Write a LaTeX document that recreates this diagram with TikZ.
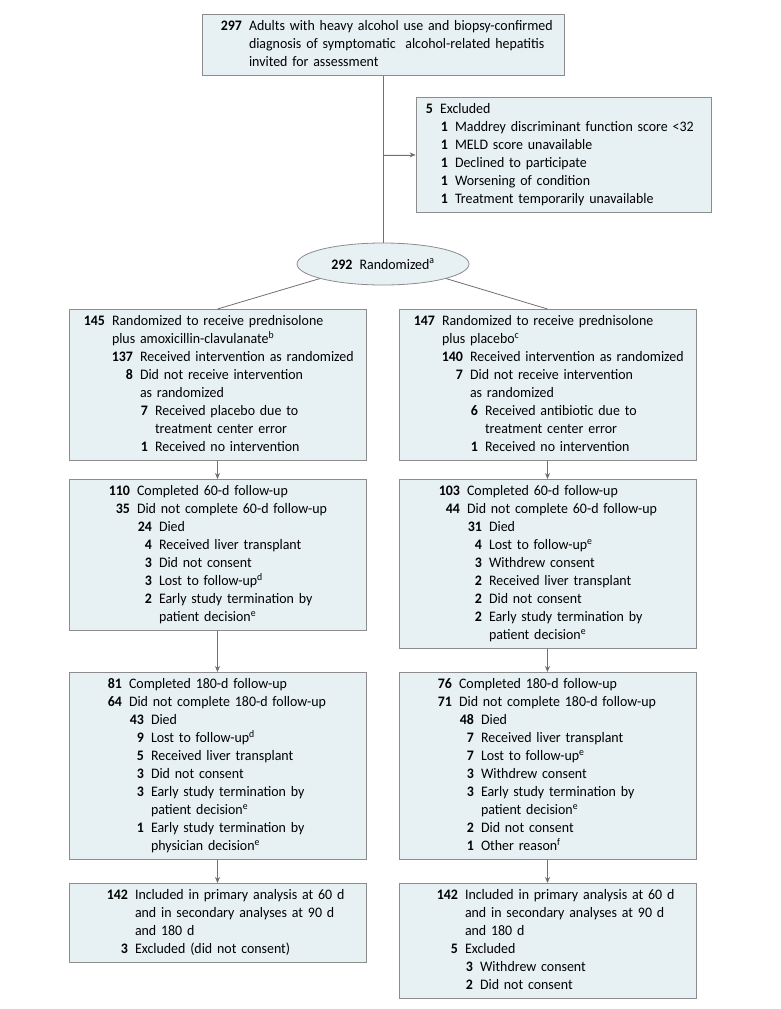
\documentclass[tikz,border=0pt]{standalone}
\usepackage{fontspec}
\setmainfont{Carlito}[FakeStretch=0.96]
\usetikzlibrary{arrows.meta,shapes.geometric}

\definecolor{boxFill}{RGB}{231,241,244}
\definecolor{boxLine}{RGB}{140,140,140}
\definecolor{linkGray}{RGB}{112,112,112}

\newcommand{\tally}[3]{\makebox[#1pt][r]{\bfseries #2}\hspace{7pt}\mbox{#3}\strut}
\newcommand{\tallyCont}[2]{\hspace*{\dimexpr #1pt+7pt\relax}\mbox{#2}\strut}

\begin{document}
\begin{tikzpicture}[x=1pt,y=-1pt,
    box/.style={draw=boxLine,fill=boxFill,line width=0.8pt,inner xsep=0pt,inner ysep=3.5pt,
      align=left,anchor=north,font=\fontsize{14.5}{18}\selectfont},
    armBox/.style={box,text width=297pt,minimum width=297pt},
    link/.style={draw=linkGray,line width=0.8pt},
    flowArrow/.style={link,-{Stealth[length=6pt,width=5pt]},fill=linkGray}]
    \useasboundingbox (0,0) rectangle (780,1009);

    \node[box,text width=362pt,minimum width=362pt](assessed) at (383,14) {\tally{40}{297}{Adults with heavy alcohol use and biopsy-confirmed}\\
      \tallyCont{40}{diagnosis of symptomatic\ \ alcohol-related hepatitis}\\
      \tallyCont{40}{invited for assessment}};

    \node[box,text width=295pt,minimum width=295pt](excluded) at (563.5,97) {\tally{17}{5}{Excluded}\\
      \tally{32}{1}{Maddrey discriminant function score <32}\\
      \tally{32}{1}{MELD score unavailable}\\
      \tally{32}{1}{Declined to participate}\\
      \tally{32}{1}{Worsening of condition}\\
      \tally{32}{1}{Treatment temporarily unavailable}};

    \node[ellipse,draw=boxLine,fill=boxFill,line width=0.8pt,inner sep=0pt,minimum width=172pt,minimum height=42pt,
      font=\fontsize{14.5}{18}\selectfont](randomized) at (383,264) {\textbf{292}\hspace{7pt}Randomized\textsuperscript{a}};

    \node[armBox](armAntibiotic) at (217.5,309) {\tally{36}{145}{Randomized to receive prednisolone}\\
      \tallyCont{36}{plus amoxicillin-clavulanate\textsuperscript{b}}\\
      \tally{64}{137}{Received intervention as randomized}\\
      \tally{64}{8}{Did not receive intervention}\\
      \tallyCont{64}{as randomized}\\
      \tally{79}{7}{Received placebo due to}\\
      \tallyCont{79}{treatment center error}\\
      \tally{79}{1}{Received no intervention}};
    \node[armBox](armPlacebo) at (547.5,309) {\tally{36}{147}{Randomized to receive prednisolone}\\
      \tallyCont{36}{plus placebo\textsuperscript{c}}\\
      \tally{64}{140}{Received intervention as randomized}\\
      \tally{64}{7}{Did not receive intervention}\\
      \tallyCont{64}{as randomized}\\
      \tally{79}{6}{Received antibiotic due to}\\
      \tallyCont{79}{treatment center error}\\
      \tally{79}{1}{Received no intervention}};

    \node[armBox](antibioticSixty) at (217.5,479) {\tally{61}{110}{Completed 60-d follow-up}\\
      \tally{61}{35}{Did not complete 60-d follow-up}\\
      \tally{83}{24}{Died}\\
      \tally{83}{4}{Received liver transplant}\\
      \tally{83}{3}{Did not consent}\\
      \tally{83}{3}{Lost to follow-up\textsuperscript{d}}\\
      \tally{83}{2}{Early study termination by}\\
      \tallyCont{83}{patient decision\textsuperscript{e}}};
    \node[armBox](placeboSixty) at (547.5,479) {\tally{61}{103}{Completed 60-d follow-up}\\
      \tally{61}{44}{Did not complete 60-d follow-up}\\
      \tally{83}{31}{Died}\\
      \tally{83}{4}{Lost to follow-up\textsuperscript{e}}\\
      \tally{83}{3}{Withdrew consent}\\
      \tally{83}{2}{Received liver transplant}\\
      \tally{83}{2}{Did not consent}\\
      \tally{83}{2}{Early study termination by}\\
      \tallyCont{83}{patient decision\textsuperscript{e}}};

    \node[armBox](antibioticOneEighty) at (217.5,672) {\tally{53}{81}{Completed 180-d follow-up}\\
      \tally{53}{64}{Did not complete 180-d follow-up}\\
      \tally{75}{43}{Died}\\
      \tally{75}{9}{Lost to follow-up\textsuperscript{d}}\\
      \tally{75}{5}{Received liver transplant}\\
      \tally{75}{3}{Did not consent}\\
      \tally{75}{3}{Early study termination by}\\
      \tallyCont{75}{patient decision\textsuperscript{e}}\\
      \tally{75}{1}{Early study termination by}\\
      \tallyCont{75}{physician decision\textsuperscript{e}}};
    \node[armBox](placeboOneEighty) at (547.5,672) {\tally{53}{76}{Completed 180-d follow-up}\\
      \tally{53}{71}{Did not complete 180-d follow-up}\\
      \tally{75}{48}{Died}\\
      \tally{75}{7}{Received liver transplant}\\
      \tally{75}{7}{Lost to follow-up\textsuperscript{e}}\\
      \tally{75}{3}{Withdrew consent}\\
      \tally{75}{3}{Early study termination by}\\
      \tallyCont{75}{patient decision\textsuperscript{e}}\\
      \tally{75}{2}{Did not consent}\\
      \tally{75}{1}{Other reason\textsuperscript{f}}};

    \node[armBox](antibioticAnalysis) at (217.5,883) {\tally{59}{142}{Included in primary analysis at 60 d}\\
      \tallyCont{59}{and in secondary analyses at 90 d}\\
      \tallyCont{59}{and 180 d}\\
      \tally{59}{3}{Excluded (did not consent)}};
    \node[armBox](placeboAnalysis) at (547.5,883) {\tally{59}{142}{Included in primary analysis at 60 d}\\
      \tallyCont{59}{and in secondary analyses at 90 d}\\
      \tallyCont{59}{and 180 d}\\
      \tally{59}{5}{Excluded}\\
      \tally{74}{3}{Withdrew consent}\\
      \tally{74}{2}{Did not consent}};

    \coordinate (exclusionSplit) at (assessed.south |- excluded.west);
    \draw[link] (assessed.south) -- (randomized.north);
    \draw[flowArrow] (exclusionSplit) -- (excluded.west);
    \draw[link] (randomized.193) -- (armAntibiotic.north);
    \draw[link] (randomized.-13) -- (armPlacebo.north);
    \draw[flowArrow] (armAntibiotic.south) -- (antibioticSixty.north);
    \draw[flowArrow] (armPlacebo.south) -- (placeboSixty.north);
    \draw[flowArrow] (antibioticSixty.south) -- (antibioticOneEighty.north);
    \draw[flowArrow] (placeboSixty.south) -- (placeboOneEighty.north);
    \draw[flowArrow] (antibioticOneEighty.south) -- (antibioticAnalysis.north);
    \draw[flowArrow] (placeboOneEighty.south) -- (placeboAnalysis.north);
\end{tikzpicture}
\end{document}
